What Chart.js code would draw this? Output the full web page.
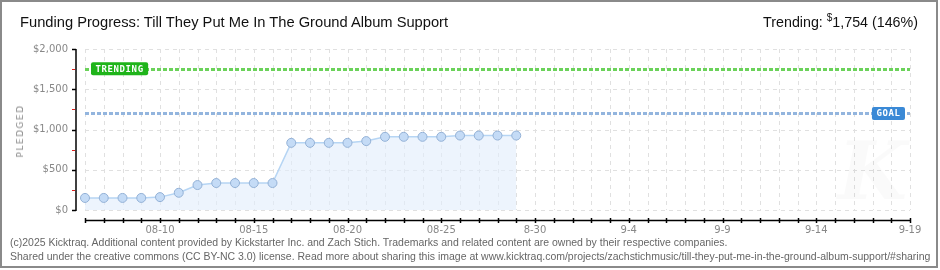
<!DOCTYPE html>
<html>
<head>
<meta charset="utf-8">
<script src="https://cdn.jsdelivr.net/npm/chart.js@4.4.1/dist/chart.umd.min.js"></script>
<style>
  html,body{margin:0;padding:0;background:#fff;}
  #wrap{position:relative;width:940px;height:270px;overflow:hidden;background:#fff;}
  #c{position:absolute;left:0;top:0;}
  #frame{position:absolute;left:0;top:0;width:934px;height:264px;border:2px solid #8a8a8a;pointer-events:none;}
  .txt{position:absolute;white-space:nowrap;color:#111;}
  #title{left:20px;top:11px;font-family:"Liberation Sans Narrow","Liberation Sans",sans-serif;font-size:17px;line-height:22px;}
  #trend{right:22px;top:11px;font-family:"Liberation Sans Narrow","Liberation Sans",sans-serif;font-size:17px;line-height:22px;}
  #trend sup{font-size:10px;vertical-align:6px;line-height:0;}
  .foot{left:10px;font-family:"Liberation Sans Narrow","Liberation Sans",sans-serif;font-size:11px;color:#666;line-height:13px;}
  #f1{top:236px;}
  #f2{top:250px;}
  #ylab{left:20px;top:131px;transform:translate(-50%,-50%) rotate(-90deg);font-family:"DejaVu Sans",sans-serif;font-size:9px;letter-spacing:1.5px;color:#888;}
</style>
</head>
<body>
<div id="wrap">
  <canvas id="c" width="940" height="270"></canvas>
  <div id="title" class="txt">Funding Progress: Till They Put Me In The Ground Album Support</div>
  <div id="trend" class="txt">Trending: <sup>$</sup>1,754 (146%)</div>
  <div id="ylab" class="txt">PLEDGED</div>
  <div id="f1" class="txt foot">(c)2025 Kicktraq. Additional content provided by Kickstarter Inc. and Zach Stich. Trademarks and related content are owned by their respective companies.</div>
  <div id="f2" class="txt foot">Shared under the creative commons (CC BY-NC 3.0) license. Read more about sharing this image at www.kicktraq.com/projects/zachstichmusic/till-they-put-me-in-the-ground-album-support/#sharing</div>
  <div id="frame"></div>
</div>
<script>
// ---- data ----
const days = [
  '08-06','08-07','08-08','08-09','08-10','08-11','08-12','08-13','08-14','08-15',
  '08-16','08-17','08-18','08-19','08-20','08-21','08-22','08-23','08-24','08-25',
  '08-26','08-27','08-28','08-29','08-30','08-31','09-01','09-02','09-03','09-04',
  '09-05','09-06','09-07','09-08','09-09','09-10','09-11','09-12','09-13','09-14',
  '09-15','09-16','09-17','09-18','09-19'
];
const pledged = [150,150,150,150,160,214,310,335,335,335,335,834,834,834,834,856,909,909,909,909,925,925,925,925];
const tickDays = ['08-10','08-15','08-20','08-25','08-30','09-04','09-09','09-14','09-19'];
const tickTexts = ['08-10','08-15','08-20','08-25','8-30','9-4','9-9','9-14','9-19'];
const yTicks = [0,500,1000,1500,2000];
const yMinorTicks = [250,750,1250,1750];
const goal = 1200;
const trending = 1754;

// ---- fit header/footer text widths ----
function fit(id, target){
  const el = document.getElementById(id);
  let fs = parseFloat(getComputedStyle(el).fontSize);
  for(let i=0;i<4;i++){
    const w = el.getBoundingClientRect().width;
    fs = fs*target/w;
    el.style.fontSize = fs + 'px';
  }
  return fs;
}
fit('title', 428);
fit('trend', 155);
const ffs = fit('f1', 717);
document.getElementById('f2').style.fontSize = ffs + 'px';

const overlay = {
  id:'overlay',
  beforeDatasetsDraw(chart){
    const {ctx, chartArea:a, scales:{x,y}} = chart;
    ctx.save();
    // dashed grid
    ctx.strokeStyle = '#e0e0e0'; ctx.lineWidth = 1;
    ctx.setLineDash([4,4]);
    for(let i=0;i<days.length;i++){
      const px = Math.round(x.getPixelForValue(i))+0.5;
      ctx.beginPath(); ctx.moveTo(px, a.top); ctx.lineTo(px, a.bottom); ctx.stroke();
    }
    for(const v of yTicks){
      const py = Math.round(y.getPixelForValue(v))+0.5;
      ctx.beginPath(); ctx.moveTo(a.left, py); ctx.lineTo(a.right, py); ctx.stroke();
    }
    // watermark
    ctx.setLineDash([]);
    ctx.fillStyle = 'rgba(0,0,0,0.018)';
    ctx.font = 'italic bold 80px "DejaVu Serif", serif';
    ctx.textAlign = 'center'; ctx.textBaseline = 'middle';
    ctx.fillText('K', x.getPixelForValue(42), y.getPixelForValue(400));
    // reference lines
    const lines = [[trending,'#6bd25a'],[goal,'#93b5de']];
    ctx.lineWidth = 3;
    ctx.setLineDash([4,2]);
    for(const [v,c] of lines){
      const py = Math.round(y.getPixelForValue(v))+0.5;
      ctx.strokeStyle = c;
      ctx.beginPath(); ctx.moveTo(a.left, py); ctx.lineTo(a.right, py); ctx.stroke();
    }
    ctx.restore();
  },
  afterDraw(chart){
    const {ctx, chartArea:a, scales:{x,y}} = chart;
    ctx.save();
    // y axis
    const ax = a.left - 9;
    ctx.strokeStyle = '#000'; ctx.lineWidth = 1.5;
    ctx.beginPath(); ctx.moveTo(ax, a.top); ctx.lineTo(ax, a.bottom+1); ctx.stroke();
    for(const v of yTicks){
      const py = Math.round(y.getPixelForValue(v))+0.5;
      ctx.beginPath(); ctx.moveTo(ax-4, py); ctx.lineTo(ax, py); ctx.stroke();
    }
    ctx.strokeStyle = '#e0201c'; ctx.lineWidth = 1;
    for(const v of yMinorTicks){
      const py = Math.round(y.getPixelForValue(v))+0.5;
      ctx.beginPath(); ctx.moveTo(ax-4, py); ctx.lineTo(ax-1, py); ctx.stroke();
    }
    // x axis
    const ay = a.bottom + 10.5;
    ctx.strokeStyle = '#000'; ctx.lineWidth = 1.5;
    ctx.beginPath(); ctx.moveTo(a.left, ay); ctx.lineTo(a.right, ay); ctx.stroke();
    for(let i=0;i<days.length;i++){
      const px = Math.round(x.getPixelForValue(i))+0.5;
      ctx.beginPath(); ctx.moveTo(px, ay-2.5); ctx.lineTo(px, ay+2.5); ctx.stroke();
    }
    // labels
    function tag(text, v, left, align, color){
      ctx.font = 'bold 9px "DejaVu Sans Mono", monospace';
      if ('letterSpacing' in ctx) ctx.letterSpacing = '0.6px';
      const w = ctx.measureText(text).width + 9;
      const h = 13;
      const py = y.getPixelForValue(v);
      const bx = align==='left' ? left : left - w;
      ctx.fillStyle = color;
      ctx.beginPath();
      if (ctx.roundRect) ctx.roundRect(bx, py-h/2, w, h, 2); else ctx.rect(bx, py-h/2, w, h);
      ctx.fill();
      ctx.fillStyle = '#fff';
      ctx.textAlign = 'left'; ctx.textBaseline = 'middle';
      ctx.fillText(text, bx+4.5, py+0.5);
      if ('letterSpacing' in ctx) ctx.letterSpacing = '0px';
    }
    tag('TRENDING', trending, a.left+6, 'left', '#1fb41a');
    tag('GOAL', goal, a.right-5, 'right', '#3a89d6');
    ctx.restore();
  }
};

new Chart(document.getElementById('c'), {
  type:'line',
  data:{
    labels: days,
    datasets:[{
      data: pledged,
      borderColor:'#b6d5f4',
      borderWidth:1.5,
      backgroundColor:'rgba(225,237,251,0.6)',
      fill:'origin',
      tension:0,
      pointRadius:4.5,
      pointBackgroundColor:'#c4dbf6',
      pointBorderColor:'#93b1d6',
      pointBorderWidth:1
    }]
  },
  options:{
    responsive:false,
    animation:false,
    devicePixelRatio:1,
    layout:{padding:{left:0,top:49,right:30,bottom:0}},
    plugins:{legend:{display:false},tooltip:{enabled:false}},
    scales:{
      x:{
        type:'category',
        offset:false,
        afterFit(s){ s.height = 60; },
        border:{display:false},
        grid:{display:false,drawTicks:false},
        ticks:{
          autoSkip:false,maxRotation:0,padding:14,color:'#888',
          font:{family:'"DejaVu Sans", sans-serif',size:10},
          callback(v,i){ const k = tickDays.indexOf(days[i]); return k>=0 ? tickTexts[k] : ''; }
        }
      },
      y:{
        min:0,max:2000,
        afterFit(s){ s.width = 85; },
        afterBuildTicks(s){ s.ticks = yTicks.map(v=>({value:v})); },
        border:{display:false},
        grid:{display:false,drawTicks:false},
        ticks:{
          padding:17,color:'#888',
          font:{family:'"DejaVu Sans", sans-serif',size:10},
          callback(v){ return '$' + v.toLocaleString('en-US'); }
        }
      }
    }
  },
  plugins:[overlay]
});
</script>
</body>
</html>
